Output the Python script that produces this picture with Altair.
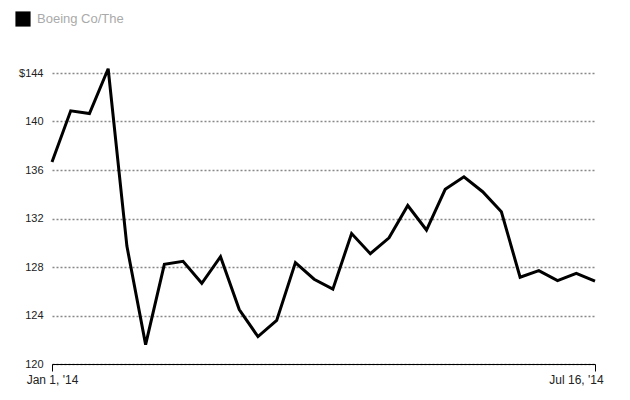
import altair as alt
import pandas as pd

series_name = "Boeing Co/The"
idx = list(range(30))
price = [136.66, 140.88, 140.66, 144.35, 129.72, 121.6, 128.22, 128.47, 126.66, 128.85,
         124.49, 122.26, 123.59, 128.36, 126.99, 126.17, 130.76, 129.1, 130.41, 133.07,
         131.05, 134.41, 135.44, 134.21, 132.55, 127.16, 127.7, 126.88, 127.48, 126.83]
y_ticks = [120, 124, 128, 132, 136, 140, 144]
x_ticks = [0, 29]
x_labels = ["Jan 1, '14", "Jul 16, '14"]

df = pd.DataFrame({"i": idx, "price": price, "series": [series_name] * len(idx)})

font = "Liberation Sans"
label_expr = f"datum.value == 0 ? \"{x_labels[0]}\" : \"{x_labels[1]}\""

chart = alt.Chart(df).mark_line(color="black", strokeWidth=3, strokeJoin="miter", clip=False).encode(
    x=alt.X("i:Q", scale=alt.Scale(domain=[0, 29], nice=False, zero=False),
            axis=alt.Axis(values=x_ticks, labelExpr=label_expr, title=None, grid=False,
                          domainColor="black", domainWidth=1, tickColor="black", tickSize=7,
                          tickWidth=1, labelPadding=3, labelFont=font, labelFontSize=12,
                          labelColor="#222", labelFlush=False,
                          labelOffset={"condition": {"test": "datum.value == 29", "value": -19},
                                       "value": 0})),
    y=alt.Y("price:Q", scale=alt.Scale(domain=[120, 144], nice=False, zero=False),
            axis=alt.Axis(values=y_ticks, labelExpr="datum.value == 144 ? '$144' : datum.label",
                          title=None, domain=False, ticks=False, grid=True, gridColor="#888",
                          gridDash=[2, 2], gridWidth=1.5, labelPadding=9, labelFont=font,
                          labelFontSize=11, labelColor="#222")),
    color=alt.Color("series:N", scale=alt.Scale(range=["black"]),
                    legend=alt.Legend(title=None, orient="none", legendX=-37, legendY=-62,
                                      symbolType="square", symbolSize=230, symbolFillColor="black",
                                      symbolStrokeWidth=0, labelFont=font, labelFontSize=13,
                                      labelColor="#aaa", labelOffset=6)),
).properties(
    width=543, height=291, autosize=alt.AutoSizeParams(type="none"),
    padding={"left": 44, "top": 65, "right": 20, "bottom": 26}
).configure_view(stroke=None)

chart.save("out.html", embed_options={"renderer": "svg", "actions": False})
